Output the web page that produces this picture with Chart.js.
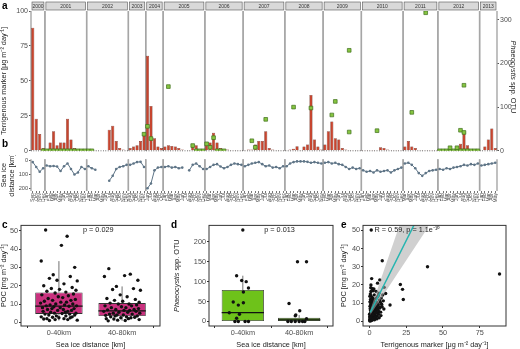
<!DOCTYPE html>
<html lang="en">
<head>
<meta charset="UTF-8">
<title>Terrigenous marker, Phaeocystis and POC</title>
<script src="https://cdn.jsdelivr.net/npm/chart.js"></script>
<style>
  body { margin: 0; background: #fff; }
  #fig { position: relative; width: 520px; height: 349px; overflow: hidden; }
  #fig canvas { position: absolute; }
  .tag { position: absolute; font: bold 10px "Liberation Sans", Arial, sans-serif; color: #000; }
</style>
</head>
<body>
<div id="fig">
  <canvas id="chartA" width="520" height="156" style="left:0px;top:0px"></canvas>
  <canvas id="chartB" width="520" height="65" style="left:0px;top:155px"></canvas>
  <canvas id="chartC" width="170" height="129" style="left:0px;top:220px"></canvas>
  <canvas id="chartD" width="170" height="129" style="left:170px;top:220px"></canvas>
  <canvas id="chartE" width="180" height="129" style="left:340px;top:220px"></canvas>
  <div class="tag" style="left:2px;top:0px">a</div>
  <div class="tag" style="left:2px;top:138px">b</div>
  <div class="tag" style="left:2px;top:219px">c</div>
  <div class="tag" style="left:171px;top:219px">d</div>
  <div class="tag" style="left:341px;top:219px">e</div>
</div>

<script>
  const family = '"Liberation Sans", Arial, sans-serif';
  Chart.defaults.font.family = family;
  Chart.defaults.color = '#4d4d4d';

  // sampling months, one facet per year
  const years = [2000, 2001, 2002, 2003, 2004, 2005, 2006, 2007, 2008, 2009, 2010, 2011, 2012, 2013];
  const firstMonth = [9, 1, 1, 8, 6, 1, 2, 1, 1, 2, 1, 3, 1, 1];
  const lastMonth = [12, 12, 12, 12, 10, 12, 12, 12, 11, 12, 12, 12, 12, 5];
  const monthNames = ['Jan', 'Feb', 'Mar', 'Apr', 'May', 'Jun', 'Jul', 'Aug', 'Sep', 'Oct', 'Nov', 'Dec'];

  // terrigenous marker flux [ug m-2 day-1], one value per month
  const terrigenous = [
    88, 23, 12, 2,                                           // 2000 Sep-Dec
    1, 6, 14, 4, 6, 6, 23, 8, 2, 0.5, 0.3, 0.3,              // 2001
    0.5, 1, 0.3, null, null, null, 15, 18, 7, 2, 1, 0.5,     // 2002
    2, 3, 4, 7, 11,                                          // 2003 Aug-Dec
    68, 32, 9, 3, 2,                                         // 2004 Jun-Oct
    3, 4, 3.5, 3, 2, 1, null, 0.5, 5, 4, 1, 0.5,             // 2005
    4, 6, 13, 6, 2, 1, 1, 0.5, 0.5, 0.5, 0.5,                // 2006 Feb-Dec
    0.5, 1, 1, 4.5, 7, 7, 14, 2, 1, 0.5, 0.3, 0.3,           // 2007
    0.5, 1, 1.5, 3.3, 0.5, 3, 4.5, 40, 8, 3, 1,              // 2008 Jan-Nov
    4.5, 14, 21, 9, 8, 2, 1, 0.5, 0.3, 0.3, 0.3,             // 2009 Feb-Dec
    0.2, 0.2, 0.2, 0.2, 0.3, 2.5, 2, 1, 0.5, 0.3, 0.2, 0.2,  // 2010
    3, 7, 3, 2, 0.5, 0.3, 0.3, 0.2, 0.2, 0.2,                // 2011 Mar-Dec
    0.2, 0.2, 0.3, 0.5, 1, 3, 5, 14, 4, 1, 0.5, 0.3,         // 2012
    0.5, 3, 8, 16, 2                                         // 2013 Jan-May
  ];

  // distance to the sea ice edge [km]
  const seaIce = [
    10, 45, 80, 55,
    35, 40, 38, 42, 75, 40, 20, 60, 100, 85, 45, 60,
    40, 55, 65, null, null, null, 145, 110, 60, 45, 40, 30,
    30, 20, 10, 8, 45,
    200, 165, 70, 50, 45,
    45, 40, 50, 45, 55, 50, null, 70, 30, 20, 40, 60,
    60, 45, 30, 25, 42, 55, 45, 30, 20, 25, 30,
    40, 30, 20, 15, 10, 25, 40, 35, 50, 45, 55, 40,
    40, 20, 10, 5, 5, 5, 8, 15, 10, 15, 20,
    15, 10, 20, 15, 25, 30, 45, 60, 50, 60, 55,
    70, 80, 75, 85, 70, 80, 75, 70, 85, 70, 60, 50,
    20, 15, 30, 55, 90, 110, 90, 75, 70, 65,
    60, 65, 55, 60, 50, 45, 40, 30, 35, 25, 30, 20,
    35, 30, 25, 20, 15
  ];

  // Phaeocystis OTU counts (month, value)
  const phaeoMonth = [
    '2000-12', '2001-01', '2001-02', '2001-03', '2001-04', '2001-05', '2001-06', '2001-07', '2001-08',
    '2001-09', '2001-10', '2001-11', '2001-12', '2002-01', '2002-02',
    '2003-12', '2004-06', '2004-07', '2005-02', '2005-09', '2005-10', '2005-11', '2005-12',
    '2006-02', '2006-03', '2006-04', '2006-05', '2006-06', '2006-07',
    '2007-03', '2007-04', '2007-07', '2008-03', '2008-08',
    '2009-04', '2009-05', '2009-09', '2009-09', '2010-05', '2011-05', '2011-09',
    '2012-01', '2012-02', '2012-03', '2012-04', '2012-05', '2012-06', '2012-07', '2012-08',
    '2012-09', '2012-10', '2012-11', '2012-12', '2012-04', '2012-06', '2012-07', '2012-08', '2012-08'
  ];
  const phaeoOTU = [
    0, 0, 0, 0, 0, 0, 0, 0, 0,
    0, 0, 0, 0, 0, 0,
    38, 56, 28, 147, 12, 0, 0, 0,
    16, 8, 30, 0, 0, 0,
    23, 8, 72, 100, 98,
    82, 113, 43, 230, 46, 88, 316,
    0, 0, 0, 0, 0, 0, 0, 0,
    0, 0, 0, 0, 7, 7, 47, 150, 42
  ];

  const terrTicks = [0, 25, 50, 75, 100];
  const otuTicks = [0, 100, 200, 300];
  const iceTicks = [0, 50, 100, 150, 200];

  // box plots c and d
  const groupLabels = ['0-40km', '40-80km'];
  const pocNear = [50.4, 47, 42, 33.5, 30, 26, 25, 24, 22.6, 23, 21, 20, 19, 18.5, 18, 17.5, 17, 16.5,
    16, 15.5, 15, 14.5, 14, 13.5, 13, 12.5, 12, 12, 11.5, 11, 11, 10.5, 10, 10, 9.5, 9.5, 9, 9, 8.8,
    8.5, 8, 8, 7.5, 7.5, 7, 7, 6.5, 6.5, 6, 6, 5.5, 5.5, 5, 5, 4.8, 4.5, 4.5, 4, 4, 3.5, 3.5, 3, 3,
    2.8, 2.5, 2.5, 2, 2, 1.8, 1.5, 1.5, 1.2, 1];
  const pocFar = [29.3, 26.3, 25.5, 25, 23, 19.6, 18.4, 17.9, 17.5, 15, 14, 13, 12.5, 12, 11.5, 11, 10.5,
    10, 10, 9.5, 9, 9, 8.5, 8, 8, 7.5, 7, 7, 6.8, 6.5, 6.5, 6, 6, 5.5, 5.5, 5, 5, 4.5, 4.5, 4, 4, 3.8,
    3.5, 3.5, 3, 3, 2.8, 2.5, 2.5, 2, 2, 1.8, 1.5, 1.2, 1, 0.8];
  const jitter = [-0.21, 0.13, 0.04, -0.28, 0.25, -0.09, 0.18, -0.15, 0.29, -0.03, 0.08, -0.24, 0.21,
    -0.12, 0.01, 0.27, -0.19, 0.11, -0.06, 0.23, -0.27, 0.15, -0.01, 0.06, -0.17, 0.26, -0.1, 0.19,
    -0.23, 0.03, 0.12, -0.29, 0.22, -0.05, 0.09, -0.14, 0.28, -0.2, 0.16, -0.08, 0.02, -0.26, 0.24,
    -0.11, 0.07, -0.18, 0.2, -0.02, 0.14, -0.25, 0.1, -0.13, 0.27, -0.07, 0.05, -0.22, 0.17, -0.16,
    0.25, -0.04, 0.11, -0.28, 0.21, -0.1, 0.0, 0.18, -0.19, 0.08, -0.24, 0.14, -0.06, 0.29, -0.15,
    0.03, -0.11];
  const pocQ1 = [4.6, 3.4], pocMedian = [8.8, 6.2], pocQ3 = [16.3, 10.5], pocLow = [1, 0.8], pocHigh = [33.4, 19.6];
  const pocTicks = [0, 10, 20, 30, 40, 50];

  const otuNear = [230, 115, 103, 100, 84, 74, 49, 47, 41, 22, 18, 8, 0, 0, 0, 0];
  const otuNearJitter = [0.0, -0.11, -0.02, 0.06, 0.1, 0.01, -0.17, 0.01, -0.08, -0.24, -0.06, -0.11, -0.14, -0.08, 0.04, 0.1];
  const otuFar = [150, 150, 45, 27, 16, 14, 7, 0, 0, 0, 0, 0, 0];
  const otuFarJitter = [-0.03, 0.13, -0.18, 0.01, -0.06, -0.07, 0.13, -0.2, -0.14, -0.07, 0.0, 0.06, 0.1];
  const otuQ1 = [0, 0], otuMedian = [22, 4], otuQ3 = [79, 9], otuLow = [0, 0], otuHigh = [115, 16];
  const otuBoxTicks = [0, 50, 100, 150, 200];

  // scatter e: terrigenous marker vs POC
  const eTerr = [0.2, 0.3, 0.4, 0.5, 0.5, 0.6, 0.7, 0.8, 0.8, 0.9, 1.0, 1.0, 1.1, 1.2, 1.2, 1.3, 1.4, 1.5, 1.5, 1.6,
    1.7, 1.8, 1.9, 2.0, 2.0, 2.1, 2.2, 2.3, 2.4, 2.5, 2.6, 2.8, 3.0, 3.0, 3.2, 3.4, 3.5, 3.7, 3.9, 4.0,
    4.2, 4.5, 4.8, 5.0, 5.3, 5.6, 6.0, 6.4, 6.8, 7.2, 0.3, 0.6, 1.0, 0.4, 0.7, 1.1, 1.4, 1.9, 2.7, 3.3,
    0.9, 1.5, 1.2, 2.5, 3.0, 4.5, 5.5, 6.5, 7.0, 8.0, 8.7, 9.0, 10.0, 11.0, 14.0, 21.0, 22.5, 23.0, 39.5, 88.5,
    0.2, 0.5, 0.8, 1.3, 1.6, 2.2, 2.9, 3.6, 4.3, 5.1, 5.8, 6.2, 6.9, 7.6, 8.3, 0.1, 0.4, 0.6, 1.8, 2.4,
    3.1, 3.8, 4.6, 5.4, 6.1, 7.4, 8.6, 9.4, 1.0, 2.0, 0.3, 0.9, 1.7, 2.6, 3.4, 4.1, 5.0, 6.6, 7.8, 9.8];
  const ePoc = [0.5, 1.2, 2.0, 0.8, 3.1, 4.5, 1.6, 6.2, 2.7, 9.5, 0.4, 5.3, 3.6, 7.4, 1.9, 11.2, 4.1, 2.4, 8.6, 6.0,
    3.0, 10.1, 5.0, 1.3, 7.9, 4.4, 12.5, 2.9, 6.7, 9.0, 3.8, 5.6, 8.1, 2.2, 10.8, 6.4, 4.0, 7.2, 9.6, 3.3,
    5.9, 8.4, 6.9, 10.4, 4.7, 7.7, 9.2, 5.3, 11.6, 8.0, 13.8, 15.0, 16.4, 10.6, 12.0, 14.0, 9.8, 13.1, 11.5, 14.6,
    18.5, 23.5, 50.2, 16.8, 17.8, 16.5, 21.0, 15.5, 22.8, 12.8, 33.3, 14.5, 18.7, 15.3, 9.0, 20.3, 17.6, 12.0, 30.0, 26.0,
    2.6, 7.0, 0.9, 5.7, 1.1, 3.5, 6.5, 1.8, 4.9, 2.8, 6.1, 3.9, 7.3, 5.1, 9.4, 4.0, 8.3, 11.0, 7.5, 10.9,
    12.2, 10.0, 12.7, 13.4, 14.2, 10.5, 8.1, 11.3, 20.0, 18.0, 0.2, 2.1, 0.6, 1.5, 0.9, 2.3, 1.4, 2.0, 3.2, 6.8];
  const fitX = [0.5, 40], fitY = [4.9, 68.5];
  const bandX = [0.5, 20, 40], bandUpper = [6.2, 51.8, 98.6], bandLower = [3.6, 27.4, 51.8];
  const eXTicks = [0, 25, 50, 75];

  // month keys built from the facet ranges
  const monthKeys = [], monthYear = [];
  years.forEach((y, k) => {
    for (let m = firstMonth[k]; m <= lastMonth[k]; m++) {
      monthKeys.push(y + '-' + String(m).padStart(2, '0'));
      monthYear.push(y);
    }
  });

  function fixTicks(list) { return s => { s.ticks = list.map(v => ({ value: v })); }; }

  function drawMixed(ctx, parts, x, y, angle, size) {
    ctx.save();
    ctx.translate(x, y);
    ctx.rotate(angle);
    let total = 0;
    parts.forEach(p => { ctx.font = (p[1] ? 'italic ' : '') + size + 'px ' + family; total += ctx.measureText(p[0]).width; });
    let cx = -total / 2;
    ctx.textAlign = 'left';
    ctx.textBaseline = 'middle';
    ctx.fillStyle = '#222';
    parts.forEach(p => {
      ctx.font = (p[1] ? 'italic ' : '') + size + 'px ' + family;
      ctx.fillText(p[0], cx, 0);
      cx += ctx.measureText(p[0]).width;
    });
    ctx.restore();
  }

  // year facets: panel borders and strip labels
  const yearPlugin = {
    id: 'years',
    beforeDatasetsDraw(chart, args, opts) {
      const { ctx, chartArea: a } = chart;
      const x = chart.scales.x;
      const half = (x.getPixelForValue(1) - x.getPixelForValue(0)) / 2;
      ctx.save();
      years.forEach(y => {
        const l = x.getPixelForValue(monthYear.indexOf(y)) - half;
        const r = x.getPixelForValue(monthYear.lastIndexOf(y)) + half;
        ctx.strokeStyle = '#a6a6a6';
        ctx.lineWidth = 1.4;
        [l, r].forEach(px => {
          ctx.beginPath(); ctx.moveTo(px, a.top); ctx.lineTo(px, a.bottom); ctx.stroke();
        });
        if (opts.strip) {
          ctx.fillStyle = '#d9d9d9';
          ctx.fillRect(l + 1, 2, r - l - 2, 8);
          ctx.strokeStyle = '#555';
          ctx.lineWidth = 0.6;
          ctx.strokeRect(l + 1, 2, r - l - 2, 8);
          ctx.fillStyle = '#333';
          ctx.font = '5px ' + family;
          ctx.textAlign = 'center';
          ctx.textBaseline = 'middle';
          ctx.fillText(String(y), (l + r) / 2, 6.4);
        }
      });
      if (opts.zero) {
        const y0 = chart.scales.y.getPixelForValue(0);
        ctx.strokeStyle = '#222';
        ctx.lineWidth = 0.8;
        ctx.setLineDash([0.8, 1.6]);
        ctx.beginPath(); ctx.moveTo(a.left, y0); ctx.lineTo(a.right, y0); ctx.stroke();
      }
      ctx.restore();
    },
    afterDraw(chart, args, opts) {
      if (!opts.rightTitle) return;
      const a = chart.chartArea;
      drawMixed(chart.ctx, [['Phaeocystis', true], [' spp. OTU', false]], 513, (a.top + a.bottom) / 2 - 4, Math.PI / 2, 7.3);
    }
  };

  new Chart(document.getElementById('chartA'), {
    type: 'bar',
    data: {
      labels: monthKeys,
      datasets: [
        {
          type: 'line', data: phaeoMonth.map((m, i) => ({ x: m, y: phaeoOTU[i] })), yAxisID: 'y2',
          showLine: false, pointStyle: 'rect', pointRadius: 2.6, backgroundColor: '#86c540',
          borderColor: '#3f6f1d', borderWidth: 0.7, order: 1
        },
        {
          data: terrigenous, yAxisID: 'y', backgroundColor: '#c6452f', borderColor: '#551b10',
          borderWidth: 0.5, barPercentage: 0.9, categoryPercentage: 1, order: 2
        }
      ]
    },
    options: {
      responsive: false, animation: false, devicePixelRatio: 1,
      layout: { padding: { top: 11, bottom: 3, left: 0, right: 0 } },
      plugins: { legend: { display: false }, tooltip: { enabled: false }, years: { strip: true, zero: true, rightTitle: true } },
      scales: {
        x: { display: false, offset: true },
        y: {
          position: 'left', min: 0, max: 100, afterBuildTicks: fixTicks(terrTicks), afterFit: s => { s.width = 31; },
          ticks: { font: { size: 7 }, padding: 1 },
          grid: { drawOnChartArea: false, tickLength: 2, color: '#555' },
          border: { display: false },
          title: { display: true, text: 'Terrigenous marker [μg m⁻² day⁻¹]', font: { size: 7.3 }, color: '#222', padding: 0 }
        },
        y2: {
          position: 'right', min: 0, max: 320, afterBuildTicks: fixTicks(otuTicks), afterFit: s => { s.width = 23; },
          ticks: { font: { size: 7 }, padding: 1 },
          grid: { drawOnChartArea: false, tickLength: 2, color: '#555' },
          border: { display: false }
        }
      }
    },
    plugins: [yearPlugin]
  });

  const iceColor = '#5f7587';
  new Chart(document.getElementById('chartB'), {
    type: 'line',
    data: {
      labels: monthKeys,
      datasets: [{
        data: seaIce, borderColor: iceColor, borderWidth: 1, pointRadius: 1.3, pointBackgroundColor: iceColor,
        pointBorderWidth: 0, spanGaps: false,
        segment: { borderColor: c => monthYear[c.p0DataIndex] === monthYear[c.p1DataIndex] ? iceColor : 'rgba(0,0,0,0)' }
      }]
    },
    options: {
      responsive: false, animation: false, devicePixelRatio: 1,
      layout: { padding: { top: 3, right: 23, left: 0, bottom: 0 } },
      plugins: { legend: { display: false }, tooltip: { enabled: false }, years: {} },
      scales: {
        x: {
          offset: true, afterFit: s => { s.height = 29; },
          ticks: {
            autoSkip: false, maxRotation: 90, minRotation: 90, font: { size: 5 }, padding: 0, color: '#4d4d4d',
            callback: function (v) { const k = this.getLabelForValue(v); return monthNames[+k.slice(5) - 1]; }
          },
          grid: { drawOnChartArea: false, tickLength: 2, color: '#777' },
          border: { display: false }
        },
        y: {
          reverse: true, min: -10, max: 220, afterBuildTicks: fixTicks(iceTicks), afterFit: s => { s.width = 31; },
          ticks: { font: { size: 5.6 }, padding: 1 },
          grid: { drawOnChartArea: false, tickLength: 2, color: '#555' },
          border: { display: false },
          title: { display: true, text: ['Sea ice', 'distance [km]'], font: { size: 7.3, lineHeight: 1.05 }, color: '#222', padding: 0 }
        }
      }
    },
    plugins: [yearPlugin]
  });

  // frame, box extras and annotation text for c, d, e
  const framePlugin = {
    id: 'frame',
    afterDatasetDraw(chart, args, opts) {
      if (args.meta.type !== 'bar' || !opts.median) return;
      const ctx = chart.ctx, y = chart.scales.y;
      ctx.save();
      args.meta.data.forEach((el, i) => {
        ctx.strokeStyle = '#333'; ctx.lineWidth = 0.7;
        ctx.beginPath();
        ctx.moveTo(el.x, y.getPixelForValue(opts.q3[i])); ctx.lineTo(el.x, y.getPixelForValue(opts.hi[i]));
        ctx.moveTo(el.x, y.getPixelForValue(opts.q1[i])); ctx.lineTo(el.x, y.getPixelForValue(opts.lo[i]));
        ctx.stroke();
        ctx.strokeStyle = '#111'; ctx.lineWidth = 1.3;
        const ym = y.getPixelForValue(opts.median[i]);
        ctx.beginPath(); ctx.moveTo(el.x - el.width / 2, ym); ctx.lineTo(el.x + el.width / 2, ym); ctx.stroke();
      });
      ctx.restore();
    },
    afterDraw(chart, args, opts) {
      const { ctx, chartArea: a } = chart;
      ctx.save();
      ctx.strokeStyle = '#333'; ctx.lineWidth = 1;
      ctx.strokeRect(a.left, a.top, a.right - a.left, a.bottom - a.top);
      if (opts.note) {
        ctx.fillStyle = '#222'; ctx.font = '7.3px ' + family; ctx.textAlign = 'left'; ctx.textBaseline = 'middle';
        ctx.fillText(opts.note, chart.scales.x.getPixelForValue(opts.noteX), a.top + 5);
      }
      if (opts.yTitle) drawMixed(ctx, opts.yTitle, 7, (a.top + a.bottom) / 2, -Math.PI / 2, 7.3);
      ctx.restore();
    }
  };

  function axisX(min, max, ticks, labels, title, height) {
    return {
      type: 'linear', min: min, max: max, offset: false, afterBuildTicks: fixTicks(ticks), afterFit: s => { s.height = height; },
      ticks: { font: { size: 7.3 }, padding: 1, color: '#4d4d4d', callback: v => labels ? labels[v - 1] : v },
      grid: { drawOnChartArea: false, tickLength: 2, color: '#333' },
      border: { display: false },
      title: { display: true, text: title, font: { size: 7.3 }, color: '#222', padding: { top: 1, bottom: 0 } }
    };
  }
  function axisY(min, max, ticks, title, width) {
    return {
      min: min, max: max, afterBuildTicks: fixTicks(ticks), afterFit: s => { s.width = width; },
      ticks: { font: { size: 7.3 }, padding: 1, color: '#4d4d4d' },
      grid: { drawOnChartArea: false, tickLength: 2, color: '#333' },
      border: { display: false },
      title: { display: !!title, text: title, font: { size: 7.3 }, color: '#222', padding: 0 }
    };
  }

  function boxPanel(id, q1, med, q3, lo, hi, near, nearJit, far, farJit, color, yMin, yMax, yTicks, yTitle, yWidth, pad, note, mixedTitle) {
    const pts = near.map((v, i) => ({ x: 1 + nearJit[i], y: v })).concat(far.map((v, i) => ({ x: 2 + farJit[i], y: v })));
    new Chart(document.getElementById(id), {
      type: 'bar',
      data: {
        datasets: [
          { type: 'scatter', data: pts, pointRadius: 1.7, backgroundColor: '#111', borderWidth: 0, order: 1 },
          {
            data: [{ x: 1, y: [q1[0], q3[0]] }, { x: 2, y: [q1[1], q3[1]] }], backgroundColor: color,
            borderColor: '#333', borderWidth: 0.8, borderSkipped: false, barPercentage: 0.75, categoryPercentage: 1, order: 2
          }
        ]
      },
      options: {
        responsive: false, animation: false, devicePixelRatio: 1,
        layout: { padding: pad },
        plugins: {
          legend: { display: false }, tooltip: { enabled: false },
          frame: { median: med, q1: q1, q3: q3, lo: lo, hi: hi, note: note, noteX: 1.38, yTitle: mixedTitle }
        },
        scales: {
          x: axisX(0.4, 2.6, [1, 2], groupLabels, 'Sea ice distance [km]', 23),
          y: axisY(yMin, yMax, yTicks, yTitle, yWidth)
        }
      },
      plugins: [framePlugin]
    });
  }

  boxPanel('chartC', pocQ1, pocMedian, pocQ3, pocLow, pocHigh, pocNear, jitter, pocFar, jitter, '#c9317e',
    -2, 52.9, pocTicks, 'POC [mg m⁻² day⁻¹]', 21, { top: 4, right: 10, left: 0, bottom: 0 }, 'p = 0.029', null);
  boxPanel('chartD', otuQ1, otuMedian, otuQ3, otuLow, otuHigh, otuNear, otuNearJitter, otuFar, otuFarJitter, '#6ec21a',
    -11.5, 241.5, otuBoxTicks, '', 39, { top: 4, right: 7, left: 0, bottom: 0 }, 'p = 0.013',
    [['Phaeocystis', true], [' spp. OTU', false]]);

  new Chart(document.getElementById('chartE'), {
    type: 'scatter',
    data: {
      datasets: [
        { type: 'line', data: fitX.map((v, i) => ({ x: v, y: fitY[i] })), borderColor: '#27b5b0', borderWidth: 1.5, pointRadius: 0, order: 1 },
        { type: 'line', data: bandX.map((v, i) => ({ x: v, y: bandUpper[i] })), borderWidth: 0, pointRadius: 0, fill: '+1', backgroundColor: 'rgba(170,170,170,0.55)', order: 2 },
        { type: 'line', data: bandX.map((v, i) => ({ x: v, y: bandLower[i] })), borderWidth: 0, pointRadius: 0, fill: false, order: 2 },
        { data: eTerr.map((v, i) => ({ x: v, y: ePoc[i] })), pointRadius: 1.7, backgroundColor: '#111', borderWidth: 0, order: 3 }
      ]
    },
    options: {
      responsive: false, animation: false, devicePixelRatio: 1,
      layout: { padding: { top: 4, right: 14, left: 0, bottom: 0 } },
      plugins: { legend: { display: false }, tooltip: { enabled: false }, frame: { note: 'R = 0.59, p = 1.1e⁻¹⁰', noteX: 3.4 } },
      scales: {
        x: axisX(-4.4, 92.9, eXTicks, null, 'Terrigenous marker [μg m⁻² day⁻¹]', 23),
        y: axisY(-2.5, 52.7, pocTicks, 'POC [mg m⁻² day⁻¹]', 23)
      }
    },
    plugins: [framePlugin]
  });
</script>
</body>
</html>
